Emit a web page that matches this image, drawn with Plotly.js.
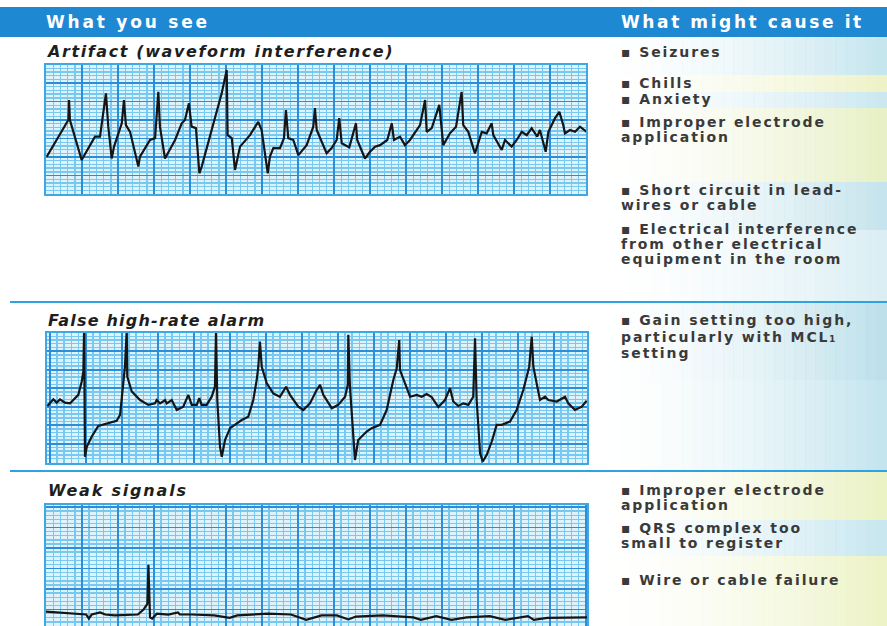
<!DOCTYPE html>
<html><head><meta charset="utf-8">
<script src="https://cdn.plot.ly/plotly-3.0.1.min.js"></script>
<style>html,body{margin:0;padding:0;background:#fff}#chart{width:887px;height:626px}</style>
</head><body><div id="chart"></div>
<script>
// ---------- DATA ----------
// Strip 1: Artifact (waveform interference) — time (s), amplitude (mV)
const artifactTime = [0.004,0.124,0.128,0.133,0.198,0.272,0.300,0.333,0.346,0.365,0.378,0.421,0.433,0.444,0.467,0.513,0.522,0.578,0.606,0.624,0.633,0.661,0.717,0.754,0.772,0.794,0.809,0.833,0.852,0.865,0.976,1.004,1.009,1.032,1.050,1.078,1.133,1.179,1.198,1.232,1.244,1.263,1.300,1.322,1.333,1.346,1.374,1.402,1.448,1.485,1.494,1.504,1.559,1.587,1.615,1.629,1.643,1.685,1.722,1.729,1.772,1.800,1.828,1.856,1.896,1.921,1.933,1.967,1.994,2.022,2.078,2.106,2.115,2.143,2.185,2.207,2.244,2.278,2.309,2.318,2.346,2.383,2.421,2.448,2.476,2.485,2.532,2.550,2.587,2.615,2.643,2.671,2.698,2.729,2.744,2.776,2.791,2.828,2.852,2.874,2.883,2.911,2.939,2.967,3.004];
const artifactMv = [1.01,2.00,2.54,2.00,0.92,1.55,1.55,2.72,1.82,0.96,1.28,1.91,2.54,1.86,1.68,0.74,1.01,1.46,1.51,2.76,1.82,0.96,1.46,1.91,2.00,2.45,1.82,1.78,0.56,0.74,2.72,3.35,1.59,1.51,0.65,1.28,1.59,1.95,1.73,0.56,1.01,1.24,1.24,1.51,2.27,1.51,1.46,1.05,1.32,1.82,2.32,1.73,1.10,1.24,1.46,2.05,1.37,1.26,1.91,1.46,0.96,1.14,1.28,1.32,1.46,1.91,1.46,1.55,1.32,1.46,1.86,2.54,1.68,1.78,2.41,1.32,1.64,1.82,2.76,1.86,1.68,1.10,1.68,1.64,1.91,1.59,1.19,1.46,1.28,1.46,1.68,1.59,1.78,1.55,1.73,1.14,1.68,2.05,2.22,1.86,1.64,1.73,1.68,1.82,1.68];

// Strip 2: False high-rate alarm
const alarmTime = [0.002,0.035,0.054,0.072,0.100,0.128,0.146,0.174,0.193,0.202,0.206,0.211,0.221,0.248,0.285,0.332,0.387,0.406,0.424,0.433,0.443,0.446,0.471,0.517,0.563,0.600,0.609,0.628,0.656,0.665,0.693,0.721,0.757,0.785,0.804,0.832,0.846,0.859,0.887,0.915,0.933,0.939,0.946,0.961,0.971,0.989,1.017,1.054,1.082,1.118,1.146,1.165,1.174,1.183,1.193,1.221,1.257,1.294,1.328,1.350,1.396,1.424,1.461,1.498,1.517,1.535,1.582,1.618,1.656,1.671,1.674,1.683,1.702,1.711,1.729,1.776,1.804,1.850,1.887,1.924,1.943,1.957,1.961,1.989,2.017,2.054,2.082,2.109,2.137,2.174,2.211,2.239,2.257,2.285,2.313,2.341,2.368,2.378,2.387,2.406,2.421,2.443,2.471,2.498,2.526,2.572,2.609,2.646,2.679,2.693,2.702,2.724,2.739,2.767,2.785,2.832,2.878,2.896,2.933,2.971,2.998];
const alarmMv = [1.54,1.72,1.63,1.72,1.63,1.61,1.70,1.84,2.20,2.47,3.60,0.17,0.44,0.71,1.00,1.07,1.14,1.30,2.15,2.60,3.60,2.33,1.93,1.70,1.57,1.61,1.70,1.61,1.70,1.61,1.70,1.43,1.52,1.84,1.57,1.57,1.75,1.57,1.57,1.79,2.06,3.60,1.70,0.44,0.17,0.62,0.94,1.07,1.16,1.25,1.70,2.24,2.60,3.28,2.60,2.15,1.88,1.79,2.06,1.84,1.52,1.43,1.61,1.97,2.11,1.84,1.48,1.57,1.79,2.11,3.46,2.06,0.62,0.08,0.62,0.85,0.94,1.03,1.43,2.24,2.56,3.32,2.51,2.15,1.79,1.84,1.79,1.86,1.78,1.51,1.70,2.02,1.66,1.54,1.61,1.57,1.79,3.37,1.70,0.26,0.04,0.22,0.58,1.03,1.03,1.12,1.43,1.97,2.60,3.41,2.60,2.06,1.70,1.79,1.70,1.66,1.79,1.61,1.43,1.52,1.68];

// Strip 3: Weak signals
const weakTime = [0.000,0.223,0.238,0.254,0.301,0.329,0.382,0.510,0.542,0.563,0.569,0.578,0.590,0.616,0.680,0.733,0.744,0.808,0.935,1.020,1.063,1.233,1.361,1.446,1.531,1.616,1.680,1.722,1.871,2.041,2.083,2.168,2.253,2.338,2.466,2.551,2.678,2.710,2.785,3.008];
const weakMv = [0.35,0.28,0.18,0.28,0.33,0.28,0.26,0.28,0.40,0.54,1.49,0.21,0.18,0.30,0.28,0.33,0.28,0.28,0.26,0.20,0.26,0.30,0.28,0.15,0.26,0.26,0.16,0.23,0.26,0.21,0.15,0.24,0.15,0.21,0.24,0.15,0.24,0.15,0.20,0.21];

// Text
const headerLabels = ["What you see", "What might cause it"];
const stripTitles = ["Artifact (waveform interference)", "False high-rate alarm", "Weak signals"];
const causeLines1 = ["▪ Seizures", "▪ Chills", "▪ Anxiety", "▪ Improper electrode", "application",
  "▪ Short circuit in lead-", "wires or cable", "▪ Electrical interference", "from other electrical", "equipment in the room"];
const causeLines2 = ["▪ Gain setting too high,", "particularly with MCL₁", "setting"];
const causeLines3 = ["▪ Improper electrode", "application", "▪ QRS complex too", "small to register", "▪ Wire or cable failure"];

// ---------- LAYOUT (pixel helpers) ----------
const W = 887, H = 626;
const fx = p => p / W;
const fy = p => (H - p) / H;

function gridAxis(x0, x1, range, dtick, mdtick, tick0, anchor) {
  return {
    domain: [x0, x1], range: range, anchor: anchor,
    showticklabels: false, ticks: '', zeroline: false,
    dtick: dtick, tick0: tick0, showgrid: true, gridcolor: '#2a8fd8', gridwidth: 1.8,
    minor: {dtick: mdtick, tick0: tick0, showgrid: true, gridcolor: '#78c8ef', gridwidth: 1.4},
    showline: true, mirror: true, linecolor: '#3fa8e2', linewidth: 1.8, fixedrange: true
  };
}

const traceStyle = {mode: 'lines', line: {color: '#151515', width: 2.2, shape: 'linear'}, hoverinfo: 'skip', showlegend: false};
const data = [
  Object.assign({x: artifactTime, y: artifactMv, xaxis: 'x', yaxis: 'y'}, traceStyle),
  Object.assign({x: alarmTime, y: alarmMv, xaxis: 'x2', yaxis: 'y2'}, traceStyle),
  Object.assign({x: weakTime, y: weakMv, xaxis: 'x3', yaxis: 'y3'}, traceStyle)
];

// background shapes
const shapes = [];
shapes.push({type: 'rect', xref: 'paper', yref: 'paper', x0: 0, x1: 1, y0: fy(37), y1: fy(7), fillcolor: '#1f88d2', line: {width: 0}, layer: 'below'});
const bands = [
  [37, 75, [190, 226, 236]], [75, 92, [236, 240, 190]], [92, 108, [196, 229, 238]],
  [108, 182, [228, 238, 190]], [182, 230, [190, 224, 234]], [230, 302, [214, 236, 242]],
  [302, 380, [180, 220, 232]], [380, 471, [188, 225, 236]],
  [471, 520, [232, 240, 188]], [520, 556, [192, 227, 237]], [556, 626, [234, 241, 190]]
];
const N = 28, gx0 = 600, gx1 = 887;
bands.forEach(b => {
  for (let i = 0; i < N; i++) {
    const t = (i + 0.5) / N;
    const a = 0.9 * Math.pow(t, 1.6);
    shapes.push({type: 'rect', xref: 'paper', yref: 'paper',
      x0: fx(gx0 + (gx1 - gx0) * i / N), x1: fx(gx0 + (gx1 - gx0) * (i + 1) / N) + 0.0005,
      y0: fy(b[1]), y1: fy(b[0]), fillcolor: `rgba(${b[2][0]},${b[2][1]},${b[2][2]},${a.toFixed(3)})`,
      line: {width: 0}, layer: 'below'});
  }
});
[302, 471].forEach(yy => shapes.push({type: 'line', xref: 'paper', yref: 'paper', x0: fx(10), x1: 1, y0: fy(yy), y1: fy(yy), line: {color: '#2fa3df', width: 2.2}}));

// annotations
const annotations = [];
function addText(txt, x, y, font, spacing) {
  annotations.push({xref: 'paper', yref: 'paper', x: fx(x), y: fy(y), xanchor: 'left', yanchor: 'middle',
    showarrow: false, text: `<span style="letter-spacing:${spacing}px">${txt}</span>`, font: font});
}
const headerFont = {family: 'DejaVu Sans', size: 17, color: '#ffffff', weight: 'bold'};
addText(headerLabels[0], 44, 22, headerFont, 2.8);
addText(headerLabels[1], 619, 22, headerFont, 2.6);

const titleFont = {family: 'DejaVu Sans', size: 16, color: '#1e1e1e', weight: 'bold', style: 'italic'};
addText(stripTitles[0], 44, 52, titleFont, 1.6);
addText(stripTitles[1], 46, 321, titleFont, 1.2);
addText(stripTitles[2], 46, 490, titleFont, 1.8);

const causeFont = {family: 'DejaVu Sans', size: 14, color: '#3a3a3a', weight: 'bold'};
const causeY1 = [52, 83, 99, 122, 137, 190, 205, 229, 244, 259];
const causeY2 = [320, 337, 353];
const causeY3 = [490, 505, 528, 543, 580];
causeLines1.forEach((t, i) => addText(t, 619, causeY1[i], causeFont, 1.9));
causeLines2.forEach((t, i) => addText(t, 619, causeY2[i], causeFont, 1.9));
causeLines3.forEach((t, i) => addText(t, 619, causeY3[i], causeFont, 1.9));

const layout = {
  width: W, height: H, margin: {l: 0, r: 0, t: 0, b: 0},
  paper_bgcolor: '#ffffff', plot_bgcolor: '#def3fc', showlegend: false,
  xaxis: gridAxis(fx(46), fx(586), [0, 3.0], 0.2, 0.04, 0, 'y'),
  yaxis: gridAxis(fy(194), fy(64.5), [0, 3.5], 0.5, 0.1, 0, 'x'),
  xaxis2: gridAxis(fx(47), fx(587), [0, 3.0], 0.2, 0.04, 0.015, 'y2'),
  yaxis2: gridAxis(fy(463), fy(333), [0, 3.51], 0.5, 0.1, 0.02, 'x2'),
  xaxis3: gridAxis(fx(46), fx(587), [0, 3.006], 0.2, 0.04, 0, 'y3'),
  yaxis3: gridAxis(0, fy(505), [0, 2.95], 0.5, 0.1, 0.4, 'x3'),
  shapes: shapes, annotations: annotations
};

Plotly.newPlot('chart', data, layout, {displayModeBar: false, staticPlot: true});
</script>
</body></html>
